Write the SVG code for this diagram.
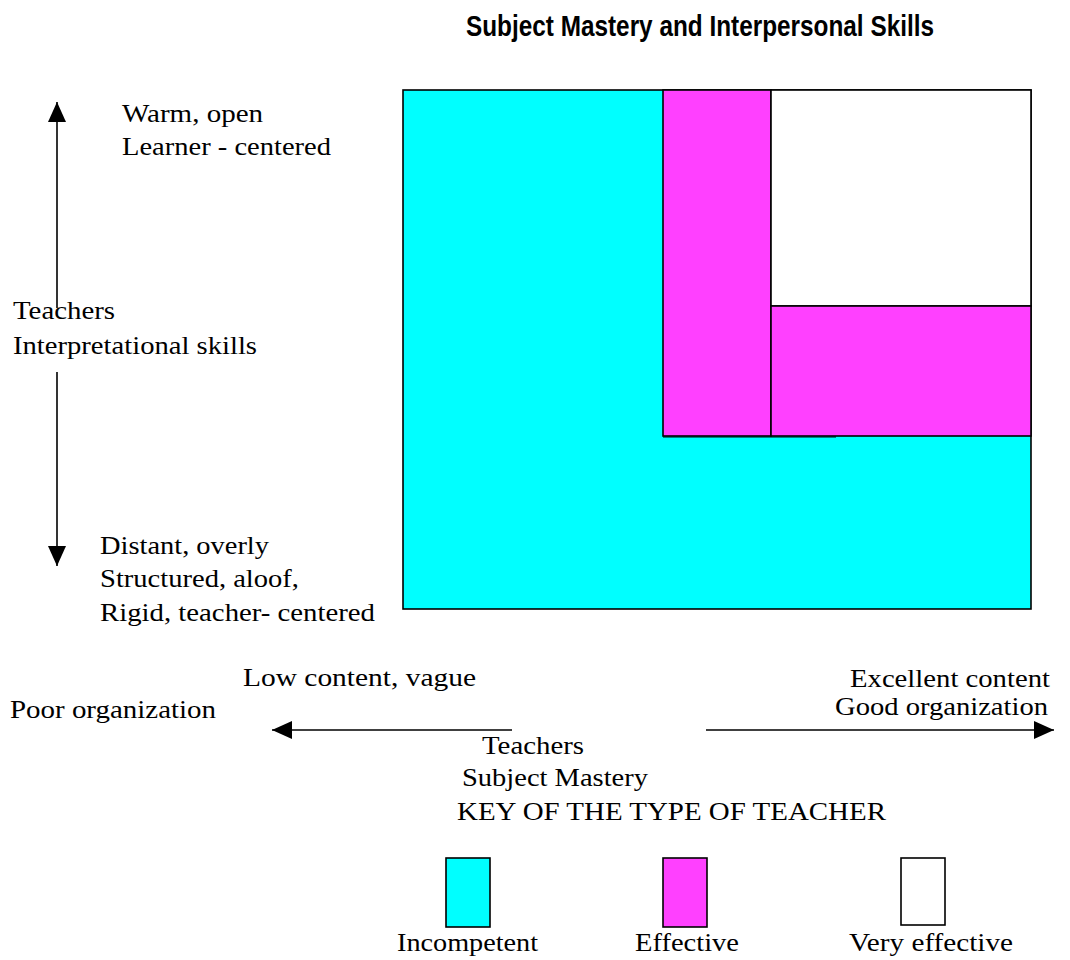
<svg xmlns="http://www.w3.org/2000/svg" width="1070" height="960" viewBox="0 0 1070 960">
  <defs>
    <style>
      .t { font-family: "Liberation Serif", "Times New Roman", serif; font-size: 25px; fill: #000; }
      .title { font-family: "Liberation Sans Narrow", "Liberation Sans", Arial, sans-serif; font-weight: bold; font-size: 29px; fill: #000; }
      .box { stroke: #000; stroke-width: 1.6; }
      .cyan { fill: #00FFFF; }
      .mag { fill: #FF40FF; }
      .wht { fill: #FFFFFF; }
      .axis { stroke: #000; stroke-width: 1.6; fill: none; }
    </style>
    <marker id="head" viewBox="0 0 20 18" refX="20" refY="9" markerWidth="20" markerHeight="18" markerUnits="userSpaceOnUse" orient="auto">
      <polygon points="0,0 20,9 0,18" fill="#000"/>
    </marker>
  </defs>

  <rect width="1070" height="960" fill="#FFFFFF"/>

  <text class="title" x="466" y="36" textLength="468" lengthAdjust="spacingAndGlyphs">Subject Mastery and Interpersonal Skills</text>

  <!-- quadrant chart -->
  <g id="incompetent-area">
    <rect class="box cyan" x="403" y="90" width="628" height="519"/>
  </g>
  <g id="effective-strip">
    <rect class="box mag" x="663" y="90" width="108" height="346"/>
    <line x1="663" y1="437" x2="836" y2="437" stroke="#000" stroke-width="1"/>
  </g>
  <g id="very-effective-area">
    <rect class="box wht" x="771" y="90" width="260" height="216"/>
  </g>
  <g id="effective-band">
    <rect class="box mag" x="771" y="306" width="260" height="130"/>
  </g>

  <!-- axes -->
  <g id="connectors">
    <line class="axis" x1="57" y1="308" x2="57" y2="102" marker-end="url(#head)"/>
    <line class="axis" x1="57" y1="372" x2="57" y2="566" marker-end="url(#head)"/>
    <line class="axis" x1="512" y1="730" x2="272" y2="730" marker-end="url(#head)"/>
    <line class="axis" x1="706" y1="730" x2="1054" y2="730" marker-end="url(#head)"/>
  </g>

  <!-- vertical axis labels -->
  <g id="label-top">
    <text class="t" x="122" y="122" textLength="141" lengthAdjust="spacingAndGlyphs">Warm, open</text>
    <text class="t" x="122" y="155" textLength="209" lengthAdjust="spacingAndGlyphs">Learner - centered</text>
  </g>
  <g id="label-vertical-axis">
    <text class="t" x="13" y="319" textLength="102" lengthAdjust="spacingAndGlyphs">Teachers</text>
    <text class="t" x="13" y="354" textLength="244" lengthAdjust="spacingAndGlyphs">Interpretational skills</text>
  </g>
  <g id="label-bottom">
    <text class="t" x="100" y="554" textLength="169" lengthAdjust="spacingAndGlyphs">Distant, overly</text>
    <text class="t" x="100" y="587" textLength="199" lengthAdjust="spacingAndGlyphs">Structured, aloof,</text>
    <text class="t" x="100" y="621" textLength="275" lengthAdjust="spacingAndGlyphs">Rigid, teacher- centered</text>
  </g>

  <!-- horizontal axis labels -->
  <g id="label-left">
    <text class="t" x="243" y="686" textLength="233" lengthAdjust="spacingAndGlyphs">Low content, vague</text>
    <text class="t" x="10" y="718" textLength="206" lengthAdjust="spacingAndGlyphs">Poor organization</text>
  </g>
  <g id="label-right">
    <text class="t" x="850" y="687" textLength="200" lengthAdjust="spacingAndGlyphs">Excellent content</text>
    <text class="t" x="835" y="715" textLength="213" lengthAdjust="spacingAndGlyphs">Good organization</text>
  </g>
  <g id="label-horizontal-axis">
    <text class="t" x="482" y="754" textLength="102" lengthAdjust="spacingAndGlyphs">Teachers</text>
    <text class="t" x="462" y="786" textLength="186" lengthAdjust="spacingAndGlyphs">Subject Mastery</text>
  </g>

  <!-- key -->
  <g id="key-title">
    <text class="t" x="457" y="820" textLength="429" lengthAdjust="spacingAndGlyphs">KEY OF THE TYPE OF TEACHER</text>
  </g>
  <g id="key-incompetent">
    <rect class="box cyan" x="446" y="858" width="44" height="69"/>
    <text class="t" x="397" y="951" textLength="141" lengthAdjust="spacingAndGlyphs">Incompetent</text>
  </g>
  <g id="key-effective">
    <rect class="box mag" x="663" y="858" width="44" height="69"/>
    <text class="t" x="635" y="951" textLength="104" lengthAdjust="spacingAndGlyphs">Effective</text>
  </g>
  <g id="key-very-effective">
    <rect class="box wht" x="901" y="858" width="44" height="67"/>
    <text class="t" x="849" y="951" textLength="164" lengthAdjust="spacingAndGlyphs">Very effective</text>
  </g>
</svg>
